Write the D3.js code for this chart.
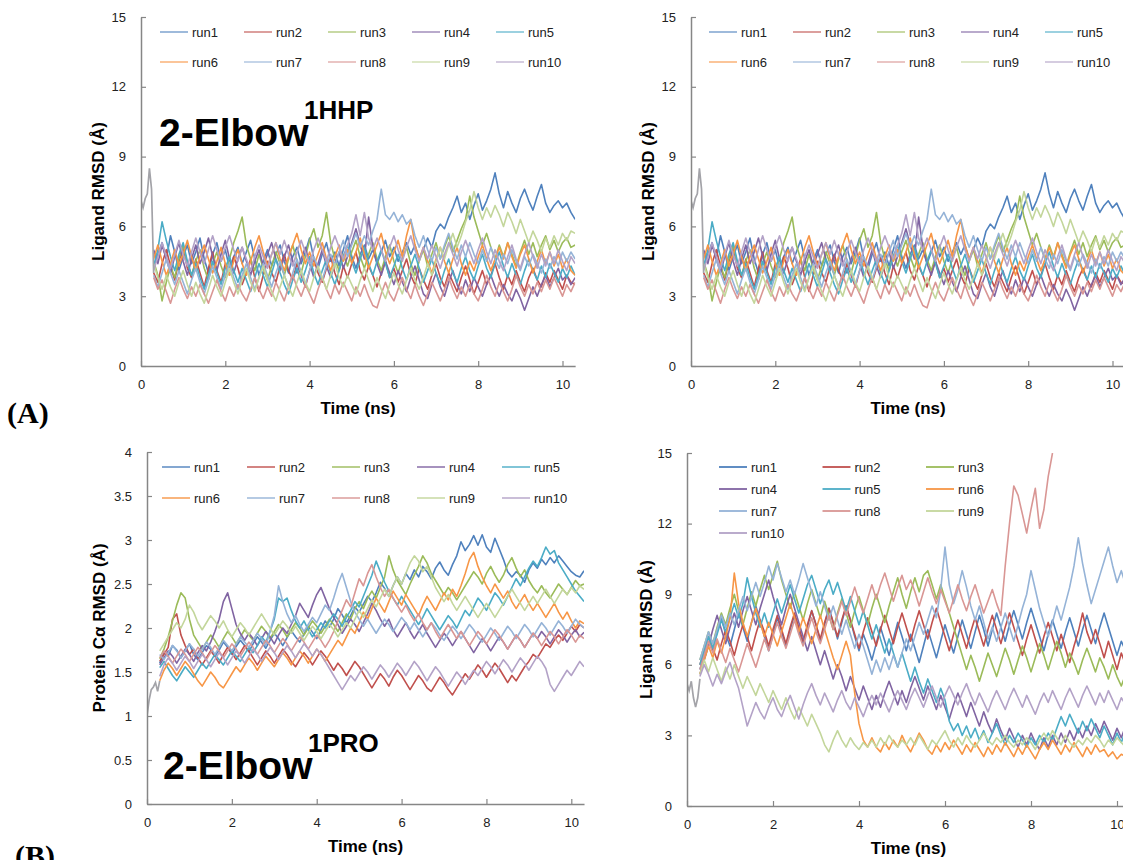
<!DOCTYPE html>
<html>
<head>
<meta charset="utf-8">
<script src="https://cdn.jsdelivr.net/npm/d3@7"></script>
<style>
body { margin: 0; background: #fff; }
svg { display: block; font-family: "Liberation Sans", Arial, sans-serif; }
</style>
</head>
<body>
<script>
// run names + excel 2007 default series colours
var runs = ["run1", "run2", "run3", "run4", "run5", "run6", "run7", "run8", "run9", "run10"];
var runColors = ["#4F81BD", "#C0504D", "#9BBB59", "#8064A2", "#4BACC6", "#F79646", "#95B3D7", "#D99694", "#C3D69B", "#B3A2C7"];

// sampling times (ns) of the production runs, 0.3 -> 10.3
var times = d3.range(3, 104).map(function(i){ return i / 10; });
// equilibration part shown before 0.3 ns
var equilTimes = [0, 0.05, 0.1, 0.15, 0.2, 0.25, 0.3];
var equilLigA = [7.1, 6.8, 7.2, 7.4, 8.5, 7.6, 4.0];
var equilProtB = [1.0, 1.18, 1.3, 1.33, 1.38, 1.28, 1.4];
var equilLigB = [5.2, 4.9, 5.3, 4.6, 4.2, 4.6, 5.4];

var xTicks = [0, 2, 4, 6, 8, 10];
var yTicksLig = [0, 3, 6, 9, 12, 15];
var yTicksProt = [0, 0.5, 1, 1.5, 2, 2.5, 3, 3.5, 4];

// (A) ligand RMSD, 1HHP
var ligandA = [
[4.2,4.8,5.3,4.6,5.6,4.9,4.1,4.7,5.2,4.4, 4.9,5.5,4.6,4.0,4.8,5.3,4.5,5.0,4.2,4.7, 5.1,4.4,4.9,5.4,4.6,3.9,4.5,5.0,4.3,4.8, 5.2,4.5,4.0,4.7,5.1,4.4,4.9,5.5,4.6,4.2, 4.8,5.3,4.5,4.9,4.3,5.0,5.6,4.7,4.2,4.8, 5.2,4.6,5.0,4.4,4.9,5.4,4.7,5.1,4.5,4.9, 5.3,4.8,5.2,4.6,5.0,5.5,5.1,5.8,6.1,5.9, 6.4,6.8,7.3,6.6,7.0,6.3,6.9,7.4,6.7,7.1, 7.6,8.3,7.4,6.8,7.5,7.0,6.6,7.2,7.6,7.1, 6.7,7.3,7.8,7.0,6.6,6.9,7.1,6.8,7.0,6.6, 6.3],
[4.0,3.6,4.4,5.0,4.3,3.7,4.5,5.1,4.2,3.8, 4.6,4.0,3.4,4.2,4.9,4.1,3.6,4.4,3.9,4.7, 4.2,3.5,4.0,4.6,3.8,3.2,3.9,4.5,4.0,3.6, 4.3,4.8,4.1,3.7,4.4,3.9,3.4,4.1,4.6,4.0, 3.6,4.2,4.7,4.0,3.5,4.3,3.8,4.4,4.9,4.1, 3.7,4.3,3.9,3.4,4.0,4.5,3.8,4.2,3.6,4.1, 4.6,3.9,3.5,4.2,3.7,3.3,3.9,4.4,3.8,3.4, 4.0,3.6,3.2,3.8,4.3,3.7,3.1,3.6,4.1,3.5, 3.9,4.4,3.8,3.3,3.9,3.5,4.1,3.6,3.2,3.8, 4.2,3.7,3.4,4.0,3.6,4.1,3.7,3.3,3.9,3.6, 3.5],
[4.5,3.9,2.8,3.6,4.3,3.8,4.6,5.2,4.4,3.9, 4.5,5.0,4.2,3.7,4.4,4.9,4.3,3.8,4.6,5.3, 5.8,6.4,5.2,4.6,4.1,4.8,4.2,3.7,4.3,4.9, 4.4,3.9,4.6,5.2,4.5,4.0,4.7,5.4,5.9,5.1, 5.6,6.6,5.3,4.6,4.1,4.8,4.3,4.9,5.4,4.7, 4.2,4.8,5.3,4.6,4.1,4.7,5.2,4.5,4.0,4.6, 5.1,4.4,3.9,4.5,5.0,4.3,4.8,5.3,4.6,5.1, 5.6,4.9,5.4,5.9,6.3,7.3,6.4,5.8,5.2,5.7, 5.1,4.6,5.2,4.7,5.3,4.8,4.3,4.9,5.4,4.8, 5.3,4.7,5.2,5.6,5.0,5.4,4.9,5.3,5.5,5.1, 5.2],
[5.0,4.4,5.2,4.6,4.0,4.7,5.3,4.5,3.9,4.6, 5.2,4.4,4.9,5.5,4.7,4.1,4.8,5.4,4.6,4.0, 4.6,5.1,4.5,3.9,4.5,5.0,4.3,4.8,5.3,4.6, 4.1,4.7,5.2,4.5,4.0,4.6,5.1,4.4,3.8,4.4, 5.0,4.3,3.8,4.4,4.9,4.2,4.7,5.3,5.9,5.2, 4.6,6.4,5.1,4.4,3.9,4.5,4.0,3.5,4.1,3.6, 3.2,3.8,4.3,3.7,3.1,2.9,3.5,4.0,3.4,3.0, 3.6,4.1,3.5,3.1,3.7,3.2,3.8,3.4,3.0,3.5, 3.9,3.4,3.0,3.5,3.1,2.8,3.3,2.9,2.4,2.9, 3.4,3.0,3.5,3.9,3.4,3.8,4.2,3.7,3.9,3.5, 3.8],
[4.3,5.0,6.2,5.4,4.7,4.1,4.8,5.3,4.5,3.9, 4.4,3.8,3.3,3.9,4.5,4.0,3.5,4.2,4.7,4.1, 3.6,4.2,3.7,3.2,3.8,4.4,3.9,3.4,4.0,4.6, 4.0,3.5,3.1,3.7,4.2,3.6,4.1,4.7,4.0,3.5, 4.1,4.6,4.0,3.5,4.1,4.7,5.2,4.5,4.0,4.6, 5.1,4.4,3.9,4.5,5.0,4.4,3.8,4.3,4.8,4.2, 3.7,4.3,4.8,4.2,3.6,4.1,4.6,4.0,3.5,4.1, 4.6,4.0,3.6,4.2,4.7,4.1,3.7,4.3,4.8,4.2, 3.8,4.4,4.9,4.3,3.8,4.4,3.9,3.5,4.1,4.6, 4.1,3.7,4.3,3.8,4.4,4.0,3.6,4.2,3.8,4.3, 3.9],
[4.6,5.2,4.5,3.9,4.4,5.0,4.3,4.8,5.4,4.7, 4.1,4.7,5.2,4.6,4.0,4.5,5.1,4.4,3.9,4.5, 5.0,4.4,3.9,4.5,5.1,5.6,4.9,4.3,4.8,5.3, 4.6,4.1,4.7,5.2,5.7,5.0,4.4,4.9,4.3,4.8, 5.3,4.6,4.1,4.7,5.2,4.5,5.0,4.4,4.9,5.5, 4.8,4.2,4.7,5.2,5.7,4.9,4.4,4.9,5.4,4.7, 5.6,6.3,5.2,4.6,5.1,4.5,4.0,4.6,5.1,4.5, 4.0,4.6,5.1,4.4,3.9,4.5,4.1,4.7,5.2,4.6, 4.1,4.6,5.1,4.6,5.3,4.7,4.2,4.8,5.2,4.6, 4.0,4.5,5.0,4.4,4.9,4.3,4.8,4.2,4.6,4.1, 3.9],
[3.9,3.4,4.0,4.6,4.0,3.5,4.1,3.6,3.1,3.7, 4.2,3.6,3.1,3.7,4.3,3.8,3.3,3.9,4.4,3.8, 3.3,3.9,4.4,3.8,3.3,3.8,4.4,3.9,3.4,4.0, 4.5,3.9,3.4,4.0,4.6,4.0,3.5,4.1,4.7,4.2, 3.7,4.3,4.8,4.3,4.9,5.4,4.7,5.2,5.7,5.1, 5.6,5.2,5.8,6.3,7.6,6.5,6.3,6.6,6.2,6.5, 6.1,6.3,5.6,5.1,5.6,5.0,4.5,5.1,4.6,5.2, 5.7,5.1,4.6,5.2,4.7,5.3,4.8,4.4,5.0,4.5, 5.1,4.6,4.2,4.8,4.4,5.0,4.5,4.1,4.7,4.3, 4.8,4.4,4.0,4.6,4.2,4.7,4.3,4.9,4.5,4.9, 4.6],
[3.8,3.3,3.7,3.2,2.7,3.3,3.8,3.3,2.9,3.4, 3.0,3.5,3.1,2.7,3.2,3.7,3.2,2.8,3.4,3.0, 3.5,3.1,2.8,3.3,3.8,3.3,2.9,3.4,3.0,3.6, 3.2,2.8,3.4,3.9,3.4,3.0,3.5,3.1,2.7,3.3, 3.8,3.3,2.9,3.5,3.1,3.6,3.2,2.8,3.4,3.0, 3.5,3.0,2.6,2.5,3.1,3.6,3.1,2.8,3.3,3.8, 3.3,2.9,3.5,3.0,2.6,3.1,3.6,3.2,2.8,3.3, 3.8,3.3,2.9,3.4,3.0,3.5,3.1,2.8,3.3,3.9, 3.4,3.0,3.6,3.2,2.8,3.3,3.9,3.4,3.0,3.5, 3.1,3.6,3.2,3.7,3.3,3.8,3.4,3.0,3.5,3.2, 3.6],
[4.4,3.8,3.3,3.9,3.4,3.0,3.6,4.1,3.5,3.0, 3.6,3.1,2.7,3.3,3.9,3.4,3.0,3.6,4.2,3.6, 3.1,3.7,4.2,3.6,3.2,3.8,4.3,3.7,3.2,2.8, 3.4,3.9,3.4,3.0,3.6,4.1,3.6,3.2,3.8,4.3, 3.8,3.3,3.9,4.4,3.8,3.4,3.9,3.5,3.1,3.7, 4.2,3.7,3.2,3.8,3.3,2.9,3.5,4.0,3.5,3.1, 3.7,4.2,3.7,3.3,3.8,4.4,3.9,4.5,5.1,4.6, 5.2,5.7,5.1,5.6,6.2,6.7,7.5,6.8,6.3,6.8, 6.4,6.9,6.5,6.0,6.6,6.2,5.7,6.3,5.8,5.3, 5.8,5.4,4.9,5.5,5.1,5.6,5.2,5.7,5.4,5.8, 5.7],
[4.1,4.7,5.3,4.7,4.2,4.8,5.4,4.8,4.3,4.9, 5.5,4.9,4.4,5.0,5.6,5.0,4.5,5.1,5.6,5.0, 4.5,5.1,4.6,4.1,4.7,5.2,4.7,4.2,4.8,5.3, 4.8,5.4,4.8,4.3,4.9,5.4,4.9,4.4,5.0,5.5, 5.0,4.5,5.1,5.6,5.1,4.6,5.2,5.7,6.5,5.6, 6.6,5.5,5.0,5.5,5.0,4.5,5.1,5.6,5.0,4.5, 5.1,5.6,5.0,4.5,5.1,4.6,5.2,4.7,4.2,4.8, 5.3,4.8,4.3,4.9,5.4,4.9,4.4,5.0,5.5,4.9, 4.4,5.0,4.5,4.1,4.7,5.2,4.6,4.2,4.8,5.3, 4.7,4.2,4.8,4.3,4.9,4.4,5.0,4.5,4.1,4.7, 4.4]
];

// (B) protein C-alpha RMSD, 1PRO
var proteinB = [
[1.60,1.72,1.68,1.80,1.75,1.66,1.74,1.82,1.70,1.64, 1.72,1.80,1.76,1.68,1.75,1.84,1.78,1.70,1.79,1.86, 1.80,1.73,1.82,1.90,1.84,1.77,1.86,1.94,1.88,1.80, 1.89,1.97,1.90,1.84,1.93,2.02,1.95,1.88,1.98,2.08, 2.01,2.10,2.22,2.15,2.06,2.14,2.24,2.18,2.27,2.36, 2.30,2.40,2.52,2.45,2.36,2.48,2.58,2.50,2.62,2.55, 2.66,2.58,2.70,2.64,2.56,2.68,2.75,2.66,2.60,2.72, 2.82,2.98,2.88,2.95,3.05,2.94,3.06,2.92,2.86,3.02, 2.90,2.78,2.64,2.58,2.64,2.60,2.52,2.66,2.74,2.68, 2.78,2.72,2.80,2.74,2.82,2.76,2.70,2.64,2.60,2.58, 2.65],
[1.62,1.70,1.78,2.10,2.16,1.92,1.80,1.70,1.76,1.66, 1.58,1.66,1.74,1.68,1.60,1.70,1.78,1.72,1.64,1.72, 1.80,1.74,1.66,1.58,1.66,1.74,1.68,1.60,1.68,1.76, 1.70,1.62,1.56,1.64,1.72,1.66,1.58,1.66,1.74,1.68, 1.60,1.52,1.60,1.54,1.46,1.54,1.62,1.56,1.48,1.40, 1.32,1.40,1.48,1.42,1.34,1.44,1.52,1.46,1.38,1.30, 1.38,1.46,1.40,1.32,1.28,1.36,1.44,1.38,1.30,1.24, 1.32,1.40,1.48,1.42,1.50,1.58,1.52,1.44,1.52,1.60, 1.54,1.46,1.38,1.46,1.40,1.48,1.56,1.62,1.70,1.66, 1.74,1.82,1.78,1.86,1.92,1.86,1.94,2.02,1.96,2.04, 2.00],
[1.65,1.76,1.90,2.08,2.26,2.40,2.34,2.10,1.92,1.84, 1.76,1.84,1.92,1.86,1.78,1.88,1.96,1.90,1.82,1.90, 1.98,1.92,1.86,1.94,2.02,1.96,1.88,1.96,2.04,1.98, 1.90,1.98,2.06,2.00,1.92,2.00,2.08,2.02,1.94,2.02, 2.10,2.04,1.96,2.06,2.16,2.10,2.22,2.30,2.22,2.34, 2.42,2.34,2.46,2.58,2.82,2.66,2.54,2.46,2.38,2.50, 2.60,2.70,2.82,2.74,2.62,2.54,2.46,2.38,2.46,2.40, 2.32,2.40,2.48,2.56,2.64,2.58,2.50,2.62,2.70,2.60, 2.52,2.60,2.72,2.80,2.68,2.58,2.66,2.54,2.46,2.40, 2.48,2.40,2.34,2.42,2.50,2.44,2.38,2.46,2.54,2.48, 2.50],
[1.58,1.66,1.74,1.68,1.60,1.68,1.76,1.70,1.62,1.72, 1.80,1.74,1.84,1.96,2.10,2.30,2.40,2.22,2.04,1.94, 1.86,1.94,1.88,1.80,1.88,1.96,1.90,1.82,1.92,2.00, 1.94,2.04,2.14,2.28,2.20,2.12,2.26,2.38,2.46,2.34, 2.22,2.12,2.04,1.94,2.02,2.10,2.04,1.96,2.06,2.16, 2.28,2.20,2.10,2.02,2.10,1.98,1.90,1.98,2.06,1.96, 1.88,1.96,2.04,1.94,1.86,1.78,1.86,1.94,1.88,1.80, 1.88,1.96,1.88,1.80,1.72,1.80,1.88,1.82,1.74,1.82, 1.90,1.84,1.76,1.84,1.92,1.86,1.78,1.86,1.94,1.88, 1.96,1.90,1.82,1.90,1.98,1.92,1.84,1.92,1.98,1.90, 1.95],
[1.55,1.62,1.54,1.46,1.40,1.48,1.56,1.50,1.44,1.52, 1.60,1.54,1.62,1.70,1.64,1.58,1.66,1.74,1.68,1.62, 1.70,1.78,1.72,1.80,1.90,1.84,1.96,2.10,2.34,2.30, 2.34,2.20,2.08,2.00,2.08,1.98,1.90,1.98,2.06,2.00, 2.08,2.16,2.10,2.02,2.12,2.20,2.30,2.24,2.36,2.48, 2.60,2.76,2.64,2.52,2.42,2.34,2.26,2.36,2.28,2.20, 2.12,2.04,2.12,2.22,2.14,2.06,1.98,2.06,2.14,2.08, 2.00,2.10,2.20,2.14,2.24,2.34,2.28,2.20,2.30,2.40, 2.34,2.26,2.36,2.46,2.56,2.48,2.58,2.68,2.76,2.70, 2.80,2.92,2.84,2.88,2.74,2.66,2.58,2.50,2.42,2.36, 2.30],
[1.40,1.52,1.60,1.54,1.46,1.54,1.62,1.56,1.48,1.40, 1.34,1.42,1.50,1.44,1.36,1.32,1.40,1.48,1.56,1.50, 1.58,1.66,1.60,1.52,1.60,1.68,1.62,1.56,1.64,1.72, 1.66,1.58,1.66,1.74,1.68,1.60,1.68,1.76,1.70,1.62, 1.70,1.78,1.86,1.80,1.90,2.00,1.94,2.06,2.18,2.10, 2.22,2.34,2.26,2.18,2.30,2.42,2.34,2.26,2.38,2.30, 2.22,2.14,2.26,2.36,2.28,2.20,2.30,2.40,2.32,2.44, 2.36,2.48,2.62,2.78,2.86,2.70,2.58,2.48,2.40,2.50, 2.42,2.34,2.42,2.30,2.22,2.30,2.38,2.28,2.20,2.28, 2.20,2.12,2.20,2.28,2.18,2.10,2.18,2.08,2.00,2.08, 2.05],
[1.70,1.64,1.72,1.80,1.74,1.66,1.74,1.82,1.76,1.68, 1.76,1.84,1.78,1.70,1.78,1.86,1.80,1.74,1.82,1.90, 1.84,1.78,1.86,1.94,1.88,1.80,1.96,2.14,2.48,2.30, 2.16,2.06,2.14,2.04,1.96,2.04,2.12,2.06,2.16,2.26, 2.20,2.34,2.50,2.62,2.46,2.30,2.18,2.10,2.02,2.10, 2.02,1.94,2.02,2.10,2.04,1.96,2.04,2.12,2.06,1.98, 2.06,1.98,1.90,1.98,2.06,2.00,1.92,1.86,1.94,2.02, 1.96,1.88,1.96,2.04,1.98,1.90,1.84,1.92,2.00,1.94, 1.86,1.94,2.02,1.96,1.88,1.96,2.04,1.98,1.90,1.98, 2.06,2.00,1.92,2.00,2.08,2.02,1.94,2.02,2.10,2.04, 2.00],
[1.66,1.74,1.68,1.60,1.68,1.76,1.70,1.62,1.70,1.78, 1.72,1.64,1.72,1.80,1.74,1.66,1.74,1.82,1.76,1.68, 1.76,1.84,1.78,1.70,1.78,1.86,1.80,1.72,1.80,1.88, 1.82,1.74,1.82,1.90,1.84,1.76,1.84,1.92,1.86,1.78, 1.86,1.96,2.08,2.20,2.32,2.24,2.40,2.56,2.48,2.62, 2.72,2.58,2.46,2.36,2.44,2.34,2.26,2.18,2.26,2.16, 2.08,2.16,2.06,1.98,2.06,1.96,1.88,1.96,2.04,1.96, 1.88,1.96,1.88,1.80,1.88,1.96,1.90,1.82,1.90,1.98, 1.92,1.84,1.76,1.84,1.92,1.86,1.78,1.86,1.94,1.88, 1.80,1.88,1.96,1.90,1.82,1.90,1.98,1.92,1.84,1.92, 1.88],
[1.74,1.82,1.90,1.98,2.06,2.00,2.10,2.26,2.18,2.06, 1.98,2.06,2.14,2.08,2.00,2.08,1.98,1.90,1.98,2.06, 2.00,1.92,2.00,2.08,2.16,2.08,2.00,1.92,2.00,2.08, 2.02,1.94,2.02,1.94,1.86,1.94,2.02,1.96,1.88,1.96, 2.04,1.98,1.90,1.98,2.06,2.00,2.10,2.20,2.12,2.22, 2.32,2.24,2.34,2.44,2.36,2.48,2.58,2.50,2.62,2.74, 2.82,2.76,2.64,2.70,2.58,2.46,2.38,2.30,2.38,2.28, 2.20,2.28,2.36,2.28,2.20,2.12,2.20,2.28,2.20,2.12, 2.20,2.28,2.36,2.44,2.36,2.28,2.20,2.28,2.36,2.28, 2.36,2.44,2.36,2.28,2.36,2.44,2.38,2.46,2.40,2.48, 2.44],
[1.45,1.58,1.66,1.60,1.52,1.60,1.68,1.62,1.54,1.62, 1.70,1.64,1.56,1.64,1.72,1.66,1.58,1.66,1.74,1.68, 1.60,1.68,1.76,1.70,1.62,1.70,1.78,1.72,1.64,1.72, 1.80,1.74,1.66,1.74,1.82,1.76,1.68,1.76,1.70,1.62, 1.54,1.46,1.38,1.30,1.38,1.46,1.40,1.48,1.56,1.50, 1.42,1.50,1.58,1.52,1.44,1.52,1.60,1.54,1.46,1.54, 1.62,1.56,1.48,1.40,1.48,1.56,1.50,1.42,1.34,1.42, 1.50,1.44,1.36,1.44,1.52,1.46,1.54,1.62,1.56,1.48, 1.56,1.64,1.58,1.50,1.58,1.66,1.60,1.52,1.60,1.68, 1.62,1.54,1.36,1.28,1.36,1.44,1.52,1.46,1.54,1.62, 1.56]
];

// (B) ligand RMSD, 1PRO (run8 leaves the plot at 8.5 ns)
var ligandB = [
[5.8,6.4,7.0,6.6,7.4,8.0,7.3,6.8,7.5,8.2, 7.6,7.0,7.8,8.5,7.9,7.2,6.6,7.3,8.0,7.4, 6.8,7.5,8.1,7.4,6.9,7.6,8.3,7.7,7.0,7.7, 8.4,7.8,7.1,7.8,8.5,7.9,7.2,6.6,7.3,6.8, 6.2,6.9,7.6,7.0,6.4,7.1,7.8,7.2,6.6,7.3, 6.7,6.1,6.8,7.5,6.9,6.3,7.0,7.7,7.1,6.5, 7.2,7.9,7.3,6.7,7.4,8.1,7.5,6.8,7.5,8.2, 7.6,7.0,7.7,8.3,7.7,7.1,7.8,8.4,7.8,7.2, 6.6,7.3,7.9,7.3,6.7,7.4,8.0,7.4,6.8,7.5, 8.1,7.5,6.9,7.6,8.2,7.6,7.0,6.4,7.0,6.6, 6.2],
[6.0,6.6,7.2,6.7,6.2,6.9,7.5,7.0,6.4,7.1, 7.7,7.2,6.6,7.3,7.9,7.4,6.8,7.5,8.1,7.5, 6.9,7.6,8.2,7.6,7.0,7.7,8.3,7.7,7.1,7.8, 8.4,7.8,7.2,7.9,8.5,7.9,7.3,6.7,7.4,8.0, 7.4,6.8,7.5,8.1,7.5,6.9,7.6,8.2,7.6,7.0, 7.7,8.3,7.7,7.1,7.8,8.4,7.8,7.2,6.6,7.3, 7.9,7.3,6.7,7.4,8.0,7.4,6.8,7.5,8.1,7.5, 6.9,7.6,8.2,7.6,7.0,6.4,7.1,7.7,7.1,6.5, 7.2,7.8,7.2,6.6,7.3,6.7,6.1,6.8,7.4,8.2, 7.4,6.9,7.5,6.9,6.3,7.0,6.4,5.8,6.5,6.0, 5.8],
[6.2,6.8,7.4,6.9,7.6,8.2,7.7,8.4,9.0,8.3, 7.7,8.4,9.1,8.5,9.2,9.8,9.2,9.8,10.4,9.6, 9.0,8.4,9.1,8.5,7.9,8.6,9.2,8.6,8.0,8.7, 8.1,7.5,8.2,8.8,8.2,7.6,8.3,8.9,8.3,7.7, 8.4,9.0,8.4,7.8,8.5,9.1,9.7,9.0,8.4,9.1, 9.7,9.1,9.8,10.0,9.4,8.8,9.4,8.8,8.2,7.6, 7.0,6.4,5.8,6.4,5.9,5.3,5.9,6.5,6.0,5.5, 6.1,6.7,6.2,5.6,6.2,6.8,6.3,5.7,6.3,6.9, 6.4,5.8,6.4,7.0,6.5,5.9,6.5,6.1,5.6,6.2, 6.7,6.2,5.7,6.3,5.9,5.4,6.0,5.5,5.1,5.6, 5.2],
[5.6,6.2,6.8,7.5,8.1,7.5,6.9,7.6,8.2,7.6, 8.3,8.9,8.3,7.7,8.4,9.0,9.6,8.9,8.3,7.7, 8.4,9.0,8.4,7.8,7.2,6.6,7.2,6.6,6.0,6.6, 6.0,5.4,6.0,5.5,4.9,5.5,5.0,4.5,5.1,4.6, 4.1,4.7,4.2,4.8,5.3,4.8,4.3,4.9,4.4,5.0, 5.5,5.0,4.5,5.1,4.6,4.1,4.7,4.2,3.7,4.3, 4.8,4.3,3.8,4.4,3.9,3.4,4.0,3.5,3.1,3.7, 3.2,2.8,3.3,2.9,2.5,3.0,2.6,3.1,2.7,2.4, 2.9,2.5,3.0,2.6,3.1,2.7,3.2,2.8,3.3,2.9, 3.4,3.0,3.5,3.1,3.6,3.2,2.8,3.3,2.9,3.4, 3.0],
[6.0,6.6,7.2,6.7,7.3,7.9,7.4,8.0,8.6,8.0, 8.6,9.7,8.9,8.2,7.6,8.2,7.6,8.2,8.8,8.2, 8.8,9.4,8.8,8.2,8.8,9.4,9.8,9.2,8.6,9.2, 9.6,9.0,9.5,8.9,8.3,8.9,8.3,7.7,8.3,7.7, 7.1,7.7,7.1,6.5,7.1,6.5,5.9,6.5,5.9,5.3, 5.9,5.3,4.8,5.4,4.9,4.4,5.0,4.5,3.6,3.2, 3.5,3.0,3.4,2.9,3.3,2.8,3.2,2.7,3.1,3.5, 3.0,2.6,3.0,2.7,3.1,2.8,2.5,2.9,2.6,3.0, 2.7,3.1,2.8,3.3,3.8,3.4,3.9,3.5,3.1,3.6, 3.2,3.7,3.3,2.9,3.4,3.0,2.6,3.1,2.7,3.2, 2.8],
[5.6,6.2,6.8,6.3,7.0,6.5,7.2,8.0,9.9,8.6, 7.8,7.2,7.8,8.4,7.8,7.2,7.8,7.3,6.8,7.4, 8.0,8.6,8.0,7.4,8.0,7.5,6.9,7.5,8.1,7.5, 6.9,6.3,5.8,6.4,7.0,6.4,4.8,3.5,2.8,2.5, 2.9,2.5,2.3,2.7,2.4,2.8,2.5,3.0,2.6,2.3, 2.7,3.1,2.8,2.4,2.2,2.6,2.3,2.7,2.4,2.8, 2.5,2.2,2.6,2.3,2.7,2.4,2.1,2.5,2.2,2.6, 2.3,2.7,2.4,2.1,2.5,2.2,2.6,2.3,2.0,2.4, 2.7,2.4,2.8,2.5,2.2,2.6,2.3,2.7,2.4,2.1, 2.5,2.2,2.6,2.3,2.4,2.1,2.3,2.0,2.2,2.1, 2.2],
[6.2,6.8,7.4,6.9,7.5,8.1,7.6,8.2,7.7,8.3, 8.9,8.3,8.9,9.5,8.9,9.5,10.2,9.6,10.3,9.7, 9.1,9.6,9.0,9.6,10.3,9.7,9.1,8.5,9.1,8.5, 7.9,8.5,7.9,7.3,7.9,7.3,6.7,7.3,6.8,6.2, 5.6,6.2,5.7,6.3,5.8,6.4,5.9,6.5,7.1,6.6, 7.2,7.8,7.3,7.9,8.5,8.0,9.2,11.0,9.4,8.6, 9.2,10.0,9.3,8.5,7.9,8.5,7.8,7.1,7.6,7.0, 7.6,8.2,7.6,7.0,7.7,8.4,9.0,10.0,9.2,8.4, 7.8,7.2,7.8,8.5,7.9,8.6,9.3,10.2,11.4,10.3, 9.4,8.6,9.2,9.8,10.4,11.0,10.2,9.5,10.0,9.4, 9.0],
[5.8,6.4,7.0,6.5,7.1,6.6,6.1,6.7,6.2,5.7, 6.3,6.9,6.4,5.9,6.5,7.1,6.6,7.2,7.8,7.2, 6.7,7.3,7.9,7.3,6.8,7.4,8.0,7.4,6.9,7.5, 8.1,7.5,8.1,8.7,8.1,8.7,9.3,8.7,8.2,8.8, 9.4,8.8,9.4,9.9,9.3,8.7,9.3,9.8,9.2,9.6, 9.1,8.5,9.1,9.7,9.1,8.6,9.2,8.7,8.2,8.8, 9.4,8.8,8.3,8.9,9.4,8.8,8.2,8.7,9.2,8.6, 8.1,10.2,12.0,13.6,13.2,12.4,11.6,12.6,13.5,11.8, 12.6,14.0,15.0],
[5.6,6.2,5.7,6.3,5.8,5.3,5.9,5.4,6.0,5.5, 5.0,5.5,5.1,4.7,5.2,4.8,4.4,4.9,4.5,4.1, 4.6,4.1,3.7,4.2,3.8,3.4,3.9,3.5,3.1,2.6, 2.3,2.8,3.2,2.8,2.5,2.9,2.6,2.4,2.7,2.5, 2.8,2.5,2.9,2.6,3.0,2.7,2.5,2.8,2.6,2.9, 2.6,3.0,2.7,2.4,2.8,2.6,2.9,3.2,2.8,2.5, 2.9,2.6,3.0,2.7,2.5,2.8,3.1,2.8,2.6,2.9, 2.7,3.0,2.7,2.5,2.8,2.6,2.9,2.7,2.4,2.8, 3.1,2.8,3.2,2.9,2.6,3.0,2.7,2.5,2.8,2.6, 2.9,2.7,3.0,2.8,2.5,2.8,2.6,2.9,2.7,2.5, 2.8],
[5.5,6.0,5.6,5.1,5.6,5.2,5.7,6.1,5.5,5.0, 4.2,3.4,3.9,4.4,4.0,3.7,4.2,4.6,4.1,3.8, 4.3,4.7,4.2,3.7,4.3,4.8,5.2,4.7,4.3,4.8, 4.4,4.0,4.5,4.9,4.4,4.1,4.6,4.2,3.8,4.3, 4.7,4.3,4.8,4.4,4.0,4.5,4.9,4.5,4.1,4.6, 5.0,4.6,4.2,4.7,5.1,4.6,4.2,4.7,5.1,4.7, 4.3,4.8,5.2,4.7,4.3,4.8,4.4,4.0,4.5,4.9, 4.5,4.1,4.6,5.0,4.6,4.2,4.7,4.3,3.9,4.4, 4.8,4.4,4.9,4.5,4.1,4.6,5.0,4.6,4.2,4.7, 5.1,4.7,4.3,4.8,4.4,4.9,4.5,4.1,4.6,4.3, 4.5]
];

var W = 1123, H = 860;
var svg = d3.select("body").append("svg").attr("width", W).attr("height", H);
var axisColor = "#868686";

function drawPanel(p, idx) {
    var x = d3.scaleLinear().domain([0, 10.3]).range([p.left, p.left + p.pxPerNs * 10.3]);
    var y = d3.scaleLinear().domain([0, p.yMax]).range([p.bottom, p.top]);

    var g = svg.append("g").attr("class", "panel");

    // clip the lines to the plot area
    g.append("clipPath").attr("id", "clip" + idx)
        .append("rect")
        .attr("x", p.left).attr("y", p.top)
        .attr("width", p.pxPerNs * 10.3).attr("height", p.bottom - p.top);

    var lineGen = d3.line()
        .x(function(d){ return x(d[0]); })
        .y(function(d){ return y(d[1]); });

    var lines = g.append("g").attr("clip-path", "url(#clip" + idx + ")");
    p.data.forEach(function(series, i){
        var pts = series.map(function(v, j){ return [times[j], v]; });
        lines.append("path")
            .attr("d", lineGen(pts))
            .attr("fill", "none")
            .attr("stroke", runColors[i])
            .attr("stroke-width", 1.6)
            .attr("stroke-linejoin", "round");
    });
    // equilibration bit
    lines.append("path")
        .attr("d", lineGen(p.equil.map(function(v, j){ return [equilTimes[j], v]; })))
        .attr("fill", "none")
        .attr("stroke", "#A3A3A8")
        .attr("stroke-width", 1.7);

    // axes
    var xAxis = g.append("g")
        .attr("transform", "translate(0," + p.bottom + ")")
        .call(d3.axisBottom(x).tickValues(xTicks).tickSizeInner(-5).tickSizeOuter(0).tickPadding(14));
    var yAxis = g.append("g")
        .attr("transform", "translate(" + p.left + ",0)")
        .call(d3.axisLeft(y).tickValues(p.yTicks).tickFormat(d3.format("")).tickSizeInner(-5).tickSizeOuter(0).tickPadding(15));
    [xAxis, yAxis].forEach(function(a){
        a.select(".domain").attr("stroke", axisColor).attr("stroke-width", 1.5);
        a.selectAll(".tick line").attr("stroke", axisColor).attr("stroke-width", 1.2);
        a.selectAll(".tick text")
            .attr("fill", "#222")
            .style("font-size", "13px")
            .style("font-family", "'Liberation Sans', Arial, sans-serif");
    });

    // axis titles
    g.append("text")
        .attr("x", (p.left + p.left + p.pxPerNs * 10.3) / 2)
        .attr("y", p.bottom + 48)
        .attr("text-anchor", "middle")
        .style("font-size", "17px").style("font-weight", "bold")
        .text("Time (ns)");
    g.append("text")
        .attr("transform", "translate(" + p.yTitleX + "," + (p.top + p.bottom) / 2 + ") rotate(-90)")
        .attr("text-anchor", "middle")
        .style("font-size", "17px").style("font-weight", "bold")
        .text(p.yTitle);

    // legend
    var leg = g.append("g");
    runs.forEach(function(name, i){
        var col = i % p.legCols, row = Math.floor(i / p.legCols);
        var lx = p.legX + col * p.legColStep, ly = p.legY + row * p.legRowStep;
        leg.append("line")
            .attr("x1", lx).attr("x2", lx + 28)
            .attr("y1", ly).attr("y2", ly)
            .attr("stroke", runColors[i]).attr("stroke-width", p.legStroke);
        leg.append("text")
            .attr("x", lx + 32).attr("y", ly + 4.5)
            .style("font-size", "13px")
            .attr("fill", "#222")
            .text(name);
    });

    // big structure label
    if (p.label) {
        g.append("text")
            .attr("x", p.label.x).attr("y", p.label.y)
            .style("font-size", "39px").style("font-weight", "bold")
            .text("2-Elbow");
        g.append("text")
            .attr("x", p.label.x + 145).attr("y", p.label.y - 27)
            .style("font-size", "26px").style("font-weight", "bold")
            .text(p.label.sup);
    }
}

var panels = [
    {left: 141, pxPerNs: 42.15, top: 17, bottom: 366, yMax: 15, yTicks: yTicksLig, data: ligandA, equil: equilLigA,
     yTitle: "Ligand RMSD (Å)", yTitleX: 104, legX: 160, legY: 32, legCols: 5, legColStep: 84, legRowStep: 30, legStroke: 1.1,
     label: {x: 159, y: 146, sup: "1HHP"}},
    {left: 691, pxPerNs: 42.15, top: 17, bottom: 366, yMax: 15, yTicks: yTicksLig, data: ligandA, equil: equilLigA,
     yTitle: "Ligand RMSD (Å)", yTitleX: 654, legX: 709, legY: 32, legCols: 5, legColStep: 84, legRowStep: 30, legStroke: 1.1},
    {left: 147, pxPerNs: 42.43, top: 452, bottom: 804, yMax: 4, yTicks: yTicksProt, data: proteinB, equil: equilProtB,
     yTitle: "Protein Cα RMSD (Å)", yTitleX: 105, legX: 162, legY: 467, legCols: 5, legColStep: 85, legRowStep: 31, legStroke: 1.4,
     label: {x: 163, y: 779, sup: "1PRO"}},
    {left: 687, pxPerNs: 43, top: 453, bottom: 806, yMax: 15, yTicks: yTicksLig, data: ligandB, equil: equilLigB,
     yTitle: "Ligand RMSD (Å)", yTitleX: 652, legX: 719, legY: 467, legCols: 3, legColStep: 103.5, legRowStep: 22, legStroke: 1.8}
];
panels.forEach(drawPanel);

// figure part labels
svg.append("text").attr("x", 7).attr("y", 423)
    .style("font-family", "'Liberation Serif', 'Times New Roman', serif")
    .style("font-size", "30px").style("font-weight", "bold")
    .text("(A)");
svg.append("text").attr("x", 15).attr("y", 866)
    .style("font-family", "'Liberation Serif', 'Times New Roman', serif")
    .style("font-size", "30px").style("font-weight", "bold")
    .text("(B)");
</script>
</body>
</html>
